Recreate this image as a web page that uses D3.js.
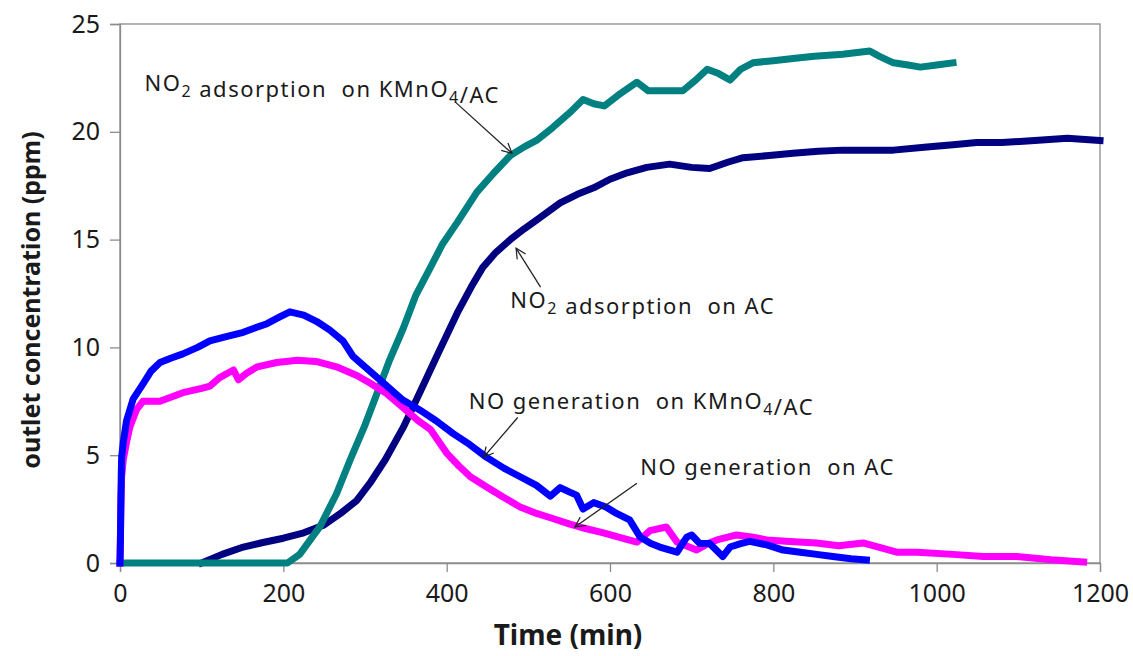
<!DOCTYPE html>
<html>
<head>
<meta charset="utf-8">
<script src="https://cdn.jsdelivr.net/npm/d3@7"></script>
<style>
  body { margin: 0; background: #fff; }
  svg { font-family: "Noto Sans", "Open Sans", sans-serif; }
</style>
</head>
<body>
<div id="chart"></div>
<script>
// series: [time (min), concentration (ppm)]
const no2KmnO4 = [[0,0],[100,0],[200,0],[205,0],[220,0.4],[245,1.7],[265,3.2],[282,4.8],[300,6.4],[315,7.9],[330,9.4],[347,10.9],[362,12.4],[380,13.7],[395,14.8],[413,15.8],[437,17.2],[458,18.1],[478,18.9],[495,19.3],[510,19.6],[530,20.2],[551,20.9],[567,21.5],[580,21.3],[593,21.2],[610,21.7],[633,22.3],[647,21.9],[670,21.9],[689,21.9],[705,22.4],[719,22.9],[733,22.7],[747,22.4],[760,22.9],[775,23.2],[800,23.3],[824,23.4],[850,23.5],[885,23.6],[918,23.75],[930,23.5],[947,23.2],[965,23.1],[980,23.0],[1000,23.1],[1020,23.2]];
const no2AC = [[100,0],[125,0.4],[151,0.74],[175,0.95],[200,1.15],[225,1.4],[249,1.75],[270,2.3],[290,2.9],[306,3.7],[325,4.8],[347,6.3],[367,7.9],[388,9.6],[413,11.6],[430,12.8],[444,13.7],[460,14.4],[478,15.0],[495,15.5],[510,15.9],[539,16.7],[560,17.1],[580,17.4],[600,17.8],[621,18.1],[645,18.35],[673,18.5],[700,18.35],[722,18.3],[745,18.6],[763,18.8],[795,18.9],[824,19.0],[855,19.1],[885,19.15],[915,19.15],[947,19.15],[988,19.3],[1020,19.4],[1049,19.5],[1080,19.5],[1120,19.6],[1160,19.7],[1200,19.6]];
const noKmnO4 = [[0,0],[0.5,1],[1,2.5],[1.5,4],[2,4.9],[4,5.6],[8,6.6],[16,7.6],[28,8.3],[38,8.9],[49,9.3],[62,9.5],[77,9.7],[95,10.0],[110,10.3],[130,10.5],[151,10.7],[165,10.9],[180,11.1],[195,11.4],[208,11.65],[225,11.5],[241,11.2],[257,10.8],[273,10.3],[285,9.6],[300,9.1],[327,8.2],[345,7.6],[367,7.1],[387,6.6],[408,6.0],[428,5.5],[449,4.9],[470,4.4],[490,4.0],[510,3.6],[527,3.1],[539,3.5],[550,3.3],[559,3.15],[567,2.5],[580,2.8],[595,2.6],[608,2.3],[624,2.0],[637,1.2],[650,0.9],[661,0.74],[682,0.5],[694,1.2],[700,1.3],[710,0.9],[722,0.9],[738,0.3],[747,0.74],[760,0.9],[771,1.0],[792,0.84],[812,0.6],[833,0.5],[853,0.4],[873,0.3],[895,0.2],[914,0.14]];
const noAC = [[0,0],[0.5,1.2],[1,2.6],[2,4.0],[4,4.8],[8,5.6],[12,6.3],[20,7.1],[28,7.5],[49,7.5],[77,7.9],[100,8.1],[110,8.2],[122,8.6],[139,8.95],[145,8.5],[155,8.8],[168,9.1],[192,9.3],[217,9.4],[240,9.35],[265,9.1],[290,8.7],[306,8.35],[325,7.9],[347,7.2],[365,6.6],[380,6.2],[400,5.1],[415,4.5],[429,4.0],[450,3.5],[469,3.06],[490,2.6],[510,2.3],[527,2.1],[551,1.8],[570,1.6],[592,1.4],[615,1.15],[633,0.97],[649,1.5],[669,1.67],[682,0.97],[706,0.6],[720,0.9],[731,1.07],[755,1.3],[775,1.2],[792,1.07],[820,1.0],[853,0.93],[880,0.8],[910,0.93],[951,0.5],[976,0.5],[1020,0.4],[1057,0.3],[1098,0.3],[1140,0.15],[1180,0.05]];

const seriesList = [
  { name: "NO2 adsorption on AC", data: no2AC, color: "#000080" },
  { name: "NO2 adsorption on KMnO4/AC", data: no2KmnO4, color: "#008080" },
  { name: "NO generation on AC", data: noAC, color: "#ff00ff" },
  { name: "NO generation on KMnO4/AC", data: noKmnO4, color: "#0000ff" },
];

const xTicks = [0, 200, 400, 600, 800, 1000, 1200];
const yTicks = [0, 5, 10, 15, 20, 25];

// annotations: label pieces [text, isSubscript], label anchor and arrow (in data units)
const notes = [
  { parts: [["NO", 0], ["2", 1], [" adsorption  on KMnO", 0], ["4", 1], ["/AC", 0]], at: [30, 21.9], from: [410, 21.4], to: [480, 19.0] },
  { parts: [["NO", 0], ["2", 1], [" adsorption  on AC", 0]], at: [478, 11.85], from: [515, 12.8], to: [485, 14.6] },
  { parts: [["NO generation  on KMnO", 0], ["4", 1], ["/AC", 0]], at: [427, 7.15], from: [487, 6.75], to: [445, 4.9] },
  { parts: [["NO generation  on AC", 0]], at: [637, 4.1], from: [633, 3.7], to: [557, 1.67] },
];

const W = 1133, H = 656;
const margin = { top: 24, right: 33, bottom: 93, left: 120 };

const svg = d3.select("#chart").append("svg").attr("width", W).attr("height", H);

const x = d3.scaleLinear().domain([0, 1200]).range([margin.left, W - margin.right]);
const y = d3.scaleLinear().domain([0, 25]).range([H - margin.bottom, margin.top]);

svg.append("defs").append("marker")
  .attr("id", "arr").attr("viewBox", "0 0 12 12").attr("refX", 11).attr("refY", 6)
  .attr("markerWidth", 12).attr("markerHeight", 12).attr("markerUnits", "userSpaceOnUse")
  .attr("orient", "auto")
  .append("path").attr("d", "M1,1 L11,6 L1,11").attr("fill", "none").attr("stroke", "#222").attr("stroke-width", 1.2);

// frame
svg.append("rect")
  .attr("x", x(0)).attr("y", y(25))
  .attr("width", x(1200) - x(0)).attr("height", y(0) - y(25))
  .attr("fill", "none").attr("stroke", "#8c8c8c").attr("stroke-width", 1.3);

const xAxis = svg.append("g").attr("transform", `translate(0,${y(0)})`)
  .call(d3.axisBottom(x).tickValues(xTicks).tickFormat(d3.format("d")).tickSize(9).tickPadding(12));
const yAxis = svg.append("g").attr("transform", `translate(${x(0)},0)`)
  .call(d3.axisLeft(y).tickValues(yTicks).tickSize(10).tickPadding(10));

[xAxis, yAxis].forEach((g) => {
  g.select(".domain").attr("stroke", "#8c8c8c").attr("stroke-width", 1.3);
  g.selectAll(".tick line").attr("stroke", "#8c8c8c").attr("stroke-width", 1.3);
  g.selectAll(".tick text").attr("fill", "#1a1a1a").style("font-size", "25px").style("font-family", "Noto Sans, sans-serif");
});

svg.append("text")
  .attr("x", 568).attr("y", 645)
  .attr("text-anchor", "middle").attr("font-weight", "bold").attr("font-size", 28).attr("fill", "#1a1a1a")
  .text("Time (min)");

svg.append("text")
  .attr("transform", `translate(40,300) rotate(-90)`)
  .attr("text-anchor", "middle").attr("font-weight", "bold").attr("font-size", 25).attr("fill", "#1a1a1a")
  .text("outlet concentration (ppm)");

const line = d3.line().x((d) => x(d[0])).y((d) => y(d[1]));

seriesList.forEach((s) => {
  svg.append("path")
    .datum(s.data)
    .attr("d", line)
    .attr("fill", "none")
    .attr("stroke", s.color)
    .attr("stroke-width", 7)
    .attr("stroke-linejoin", "round")
    .attr("stroke-linecap", "square");
});

notes.forEach((n) => {
  const t = svg.append("text")
    .attr("x", x(n.at[0])).attr("y", y(n.at[1]))
    .attr("font-size", 22).attr("fill", "#1a1a1a")
    .attr("letter-spacing", 1.5)
    .style("white-space", "pre");
  n.parts.forEach(([txt, sub]) => {
    t.append("tspan")
      .attr("font-size", sub ? 16 : 22)
      .attr("dy", sub ? 6 : 0)
      .text(txt);
    if (sub) t.append("tspan").attr("dy", -6).text("");
  });
  svg.append("line")
    .attr("x1", x(n.from[0])).attr("y1", y(n.from[1]))
    .attr("x2", x(n.to[0])).attr("y2", y(n.to[1]))
    .attr("stroke", "#222").attr("stroke-width", 1.3)
    .attr("marker-end", "url(#arr)");
});
</script>
</body>
</html>
